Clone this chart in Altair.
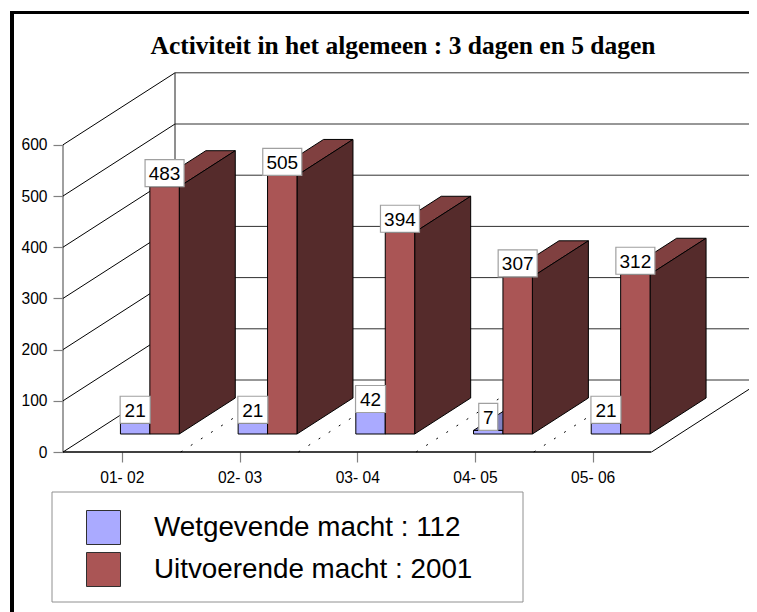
import altair as alt
import pandas as pd

categories = ["01- 02", "02- 03", "03- 04", "04- 05", "05- 06"]
wetgevende = [21, 21, 42, 7, 21]
uitvoerende = [483, 505, 394, 307, 312]
y_ticks = [0, 100, 200, 300, 400, 500, 600]
name_a = "Wetgevende macht : 112"
name_b = "Uitvoerende macht : 2001"
title = "Activiteit in het algemeen : 3 dagen en 5 dagen"

PW, PH = 686, 379
SLOT_PX, VAL_PX = 117.7, 0.512
XMAX, YMAX = PW / SLOT_PX, PH / VAL_PX
DX, DY = 112 / SLOT_PX, 72 / VAL_PX   # full depth of the box, data units
N, TOPV = len(categories), 600

xs = alt.Scale(domain=[0, XMAX], nice=False, zero=False)
ys = alt.Scale(domain=[0, YMAX], nice=False, zero=False)
X = lambda f="x", **k: alt.X(f"{f}:Q", scale=xs, **k)
Y = lambda f="y", **k: alt.Y(f"{f}:Q", scale=ys, **k)

def rules(rows, **mk):
    df = pd.DataFrame(rows, columns=["x", "x2", "y", "y2"])
    return alt.Chart(df).mark_rule(**mk).encode(X(), x2="x2:Q", y=Y(), y2="y2:Q")

# axes-carrying layer
axis_df = pd.DataFrame({"x": [0.0, 0.0], "y": [0, TOPV]})
label_expr = "[" + ",".join(f"'{c}'" for c in categories) + "][floor(datum.value)]"
axes = alt.Chart(axis_df).mark_line(color="#808080", strokeWidth=1.5).encode(
    x=X(axis=alt.Axis(values=[i + 0.5 for i in range(N)], labelExpr=label_expr, title=None,
                      domain=False, grid=False, tickSize=10, tickColor="#808080", tickWidth=1.2,
                      labelFont="Liberation Sans", labelFontSize=15.6, labelColor="#000000",
                      labelPadding=8, labelFlush=False, labelOverlap=False)),
    y=Y(axis=alt.Axis(values=y_ticks, title=None, domain=False, grid=False, tickSize=10,
                      tickColor="#808080", tickWidth=1.2, labelFont="Liberation Sans",
                      labelFontSize=15.6, labelColor="#000000", labelPadding=6)),
)

# walls
diag = rules([[0, DX, v, v + DY] for v in y_ticks], color="#000000", strokeWidth=1)
back = rules([[DX, XMAX, v + DY, v + DY] for v in y_ticks], color="#303030", strokeWidth=1)
back_v = rules([[DX, DX, DY, TOPV + DY]], color="#202020", strokeWidth=1)
floor_r = rules([[N, N + DX, 0, DY]], color="#000000", strokeWidth=1, clip=True)
floor_f = rules([[0, N, 0, 0]], color="#000000", strokeWidth=1.5)
dashes = rules([[k, k + DX, 0, DY] for k in range(1, N)], color="#000000", strokeWidth=1,
               strokeDash=[2, 10])

BX, BASE, HD, HY = 0.25 * DX, 0.25 * DY, 0.5 * DX, 0.5 * DY

def faces(vals, off, name, top, side):
    tp, sd, fr = [], [], []
    for k, v in enumerate(vals):
        xl, xr, y0, y1 = k + off + BX, k + off + BX + 0.25, BASE, BASE + v
        tp += [dict(id=k, y=y1, x=xl, x2=xr), dict(id=k, y=y1 + HY, x=xl + HD, x2=xr + HD)]
        sd += [dict(id=k, x=xr, y=y1, y2=y0), dict(id=k, x=xr + HD, y=y1 + HY, y2=y0 + HY)]
        fr += [dict(x=xl, x2=xr, y=y0, y2=y1, s=name)]
    t = alt.Chart(pd.DataFrame(tp)).mark_area(orient="horizontal", fill=top, stroke="#000000",
                                              strokeWidth=1).encode(
        X(), x2="x2:Q", y=Y(), detail="id:N")
    s = alt.Chart(pd.DataFrame(sd)).mark_area(orient="vertical", fill=side, stroke="#000000",
                                              strokeWidth=1).encode(
        X(), y=Y(), y2="y2:Q", detail="id:N")
    f = alt.Chart(pd.DataFrame(fr)).mark_rect(stroke="#000000", strokeWidth=1).encode(
        X(), x2="x2:Q", y=Y(), y2="y2:Q",
        color=alt.Color("s:N", scale=alt.Scale(domain=[name_a, name_b], range=["#AAAAFF", "#AA5555"]),
                        legend=alt.Legend(title=None, orient="none", legendX=23, legendY=437,
                                          symbolType="square", symbolSize=1156,
                                          symbolStrokeColor="#303030", symbolStrokeWidth=1,
                                          symbolOpacity=1, labelFont="Liberation Sans",
                                          labelFontSize=27.8, labelColor="#000000", labelOffset=33,
                                          rowPadding=3, padding=0, labelLimit=400, zindex=2)))
    return [t, s, f]

# value label boxes
bx = []
for k, (a, b) in enumerate(zip(wetgevende, uitvoerende)):
    for off, v in ((0.25, a), (0.5, b)):
        w = {1: 19, 2: 30, 3: 39}[len(str(v))] / SLOT_PX / 2
        xc = k + off + BX + 0.125
        bx.append(dict(x=xc - w, x2=xc + w, xc=xc, y=BASE + v, y2=BASE + v + 27 / VAL_PX,
                       ym=BASE + v + 13.5 / VAL_PX, t=str(v)))
bx = pd.DataFrame(bx)
boxes = alt.Chart(bx).mark_rect(fill="#FFFFFF", stroke="#A0A0A0", strokeWidth=1.2).encode(
    X(), x2="x2:Q", y=Y(), y2="y2:Q")
texts = alt.Chart(bx).mark_text(font="Liberation Sans", fontSize=19, color="#000000",
                                baseline="middle", dy=1).encode(
    X("xc"), y=Y("ym"), text="t:N")

one = alt.Data(values=[{"a": 1}])
legend_box = alt.Chart(one).mark_rect(fill="#FFFFFF", stroke="#909090", strokeWidth=1).encode(
    x=alt.value(-11), x2=alt.value(460), y=alt.value(419), y2=alt.value(529))
frame_l = alt.Chart(one).mark_rect(fill="#000000").encode(
    x=alt.value(-53), x2=alt.value(-49), y=alt.value(-62), y2=alt.value(539))
frame_t = alt.Chart(one).mark_rect(fill="#000000").encode(
    x=alt.value(-53), x2=alt.value(PW), y=alt.value(-62), y2=alt.value(-59))
title_mark = alt.Chart(alt.Data(values=[{"t": title}])).mark_text(
    font="Liberation Serif", fontSize=25.5, fontWeight="bold", color="#000000", baseline="middle"
).encode(x=alt.value(340), y=alt.value(-27), text="t:N")

layers = [axes, diag, back, back_v, floor_r, dashes, floor_f]
layers += faces(wetgevende, 0.25, name_a, "#8080BF", "#555580")
layers += faces(uitvoerende, 0.5, name_b, "#804040", "#552B2B")
layers += [boxes, texts, legend_box, frame_l, frame_t, title_mark]

chart = alt.layer(*layers).properties(
    width=PW, height=PH,
    padding={"left": 55, "top": 65, "right": 0, "bottom": 160},
    autosize=alt.AutoSizeParams(type="none"),
    background="#FFFFFF",
).configure_view(stroke=None)

chart.save("out.html", embed_options={"renderer": "svg", "actions": False})
